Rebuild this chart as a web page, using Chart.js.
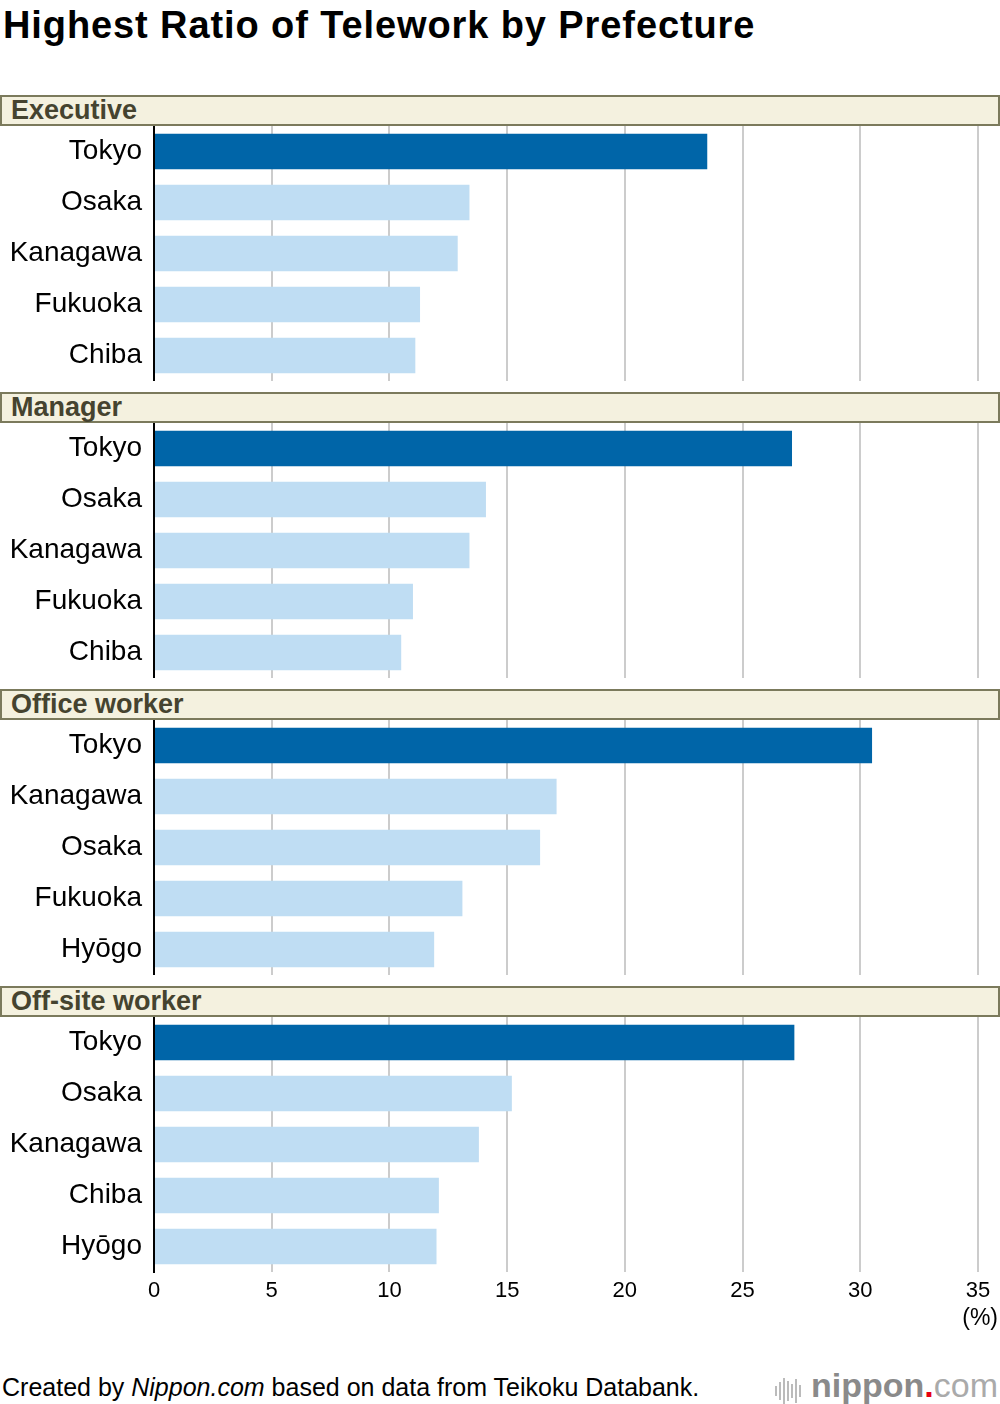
<!DOCTYPE html>
<html>
<head>
<meta charset="utf-8">
<script src="https://cdn.jsdelivr.net/npm/chart.js@4.4.1/dist/chart.umd.min.js"></script>
<style>
  html, body { margin: 0; padding: 0; background: #fff; }
  body { width: 1000px; height: 1404px; position: relative; overflow: hidden; font-family: "Liberation Sans", Arial, Helvetica, sans-serif; }
  h1 { position: absolute; left: 3px; top: 4px; margin: 0; font-size: 38px; font-weight: bold; color: #000; letter-spacing: 0.9px; }
  .band { position: absolute; left: 0; width: 1000px; height: 31px; box-sizing: border-box; background: #F4F1DF; border: 2px solid #7B7A5C; color: #45432F; font-weight: bold; font-size: 27px; line-height: 27px; padding-left: 9px; }
  .chartBox { position: absolute; left: 0; width: 1000px; }
  .unit { position: absolute; right: 2px; top: 1304px; font-size: 23px; color: #000; }
  .credit { position: absolute; left: 2px; top: 1373px; font-size: 25px; color: #000; }
  .logo { position: absolute; right: 2px; top: 1366px; font-size: 34px; color: #8a8a8a; white-space: nowrap; }
  .logo b { font-weight: bold; }
  .logo .dot { color: #E60012; font-weight: bold; }
  .logo .com { font-weight: normal; color: #aaa; }
  .bars { display: inline-block; vertical-align: middle; margin-right: 8px; }
  .bars i { display: inline-block; width: 2px; background: #bbb; margin-right: 2px; vertical-align: middle; }
</style>
</head>
<body>
<h1>Highest Ratio of Telework by Prefecture</h1>
<div id="holder"></div>
<div class="unit">(%)</div>
<div class="credit">Created by <i>Nippon.com</i> based on data from Teikoku Databank.</div>
<div class="logo"><span class="bars"><i style="height:10px"></i><i style="height:18px"></i><i style="height:26px"></i><i style="height:20px"></i><i style="height:14px"></i><i style="height:24px"></i><i style="height:12px"></i></span><b>nippon</b><span class="dot">.</span><span class="com">com</span></div>
<script>
const groupNames = ['Executive', 'Manager', 'Office worker', 'Off-site worker'];

const execLabels = ['Tokyo', 'Osaka', 'Kanagawa', 'Fukuoka', 'Chiba'];
const execValues = [23.5, 13.4, 12.9, 11.3, 11.1];

const managerLabels = ['Tokyo', 'Osaka', 'Kanagawa', 'Fukuoka', 'Chiba'];
const managerValues = [27.1, 14.1, 13.4, 11.0, 10.5];

const officeLabels = ['Tokyo', 'Kanagawa', 'Osaka', 'Fukuoka', 'Hyōgo'];
const officeValues = [30.5, 17.1, 16.4, 13.1, 11.9];

const offsiteLabels = ['Tokyo', 'Osaka', 'Kanagawa', 'Chiba', 'Hyōgo'];
const offsiteValues = [27.2, 15.2, 13.8, 12.1, 12.0];

const xMin = 0, xMax = 35, xStep = 5;

const groupLabels = [execLabels, managerLabels, officeLabels, offsiteLabels];
const groupValues = [execValues, managerValues, officeValues, offsiteValues];

const FONT = '"Liberation Sans", Arial, Helvetica, sans-serif';
const bandTop = 95, bandH = 31, plotH = 255, sectionStep = 297, axisH = 60;

const holder = document.getElementById('holder');

groupNames.forEach((name, i) => {
    const top = bandTop + i * sectionStep;
    const band = document.createElement('div');
    band.className = 'band';
    band.style.top = top + 'px';
    band.textContent = name;
    holder.appendChild(band);

    const last = i === groupNames.length - 1;
    const h = plotH + (last ? axisH : 0);
    const box = document.createElement('div');
    box.className = 'chartBox';
    box.style.top = (top + bandH) + 'px';
    box.style.height = h + 'px';
    const cv = document.createElement('canvas');
    box.appendChild(cv);
    holder.appendChild(box);

    new Chart(cv.getContext('2d'), {
        type: 'bar',
        data: {
            labels: groupLabels[i],
            datasets: [{
                data: groupValues[i],
                backgroundColor: groupValues[i].map((v, k) => k === 0 ? '#0065A8' : '#BFDDF3'),
                barPercentage: 0.7,
                categoryPercentage: 1.0
            }]
        },
        options: {
            indexAxis: 'y',
            responsive: true,
            maintainAspectRatio: false,
            animation: false,
            layout: { padding: { left: 0, right: 22, top: 0, bottom: 0 } },
            plugins: { legend: { display: false }, tooltip: { enabled: false } },
            scales: {
                x: {
                    min: xMin,
                    max: xMax,
                    ticks: {
                        display: last,
                        stepSize: xStep,
                        color: '#000',
                        font: { family: FONT, size: 22 },
                        padding: 6,
                        maxRotation: 0
                    },
                    grid: { color: '#CCCCCC', lineWidth: 2, drawTicks: false },
                    border: { display: false },
                    afterFit: s => { s.height = last ? axisH : 0; }
                },
                y: {
                    ticks: {
                        color: '#000',
                        font: { family: FONT, size: 28 },
                        padding: 4
                    },
                    grid: { display: false },
                    border: { display: true, color: '#000', width: 2 },
                    afterFit: s => { s.width = 154; s.paddingTop = 0; s.paddingBottom = 0; }
                }
            }
        }
    });
});
</script>
</body>
</html>
